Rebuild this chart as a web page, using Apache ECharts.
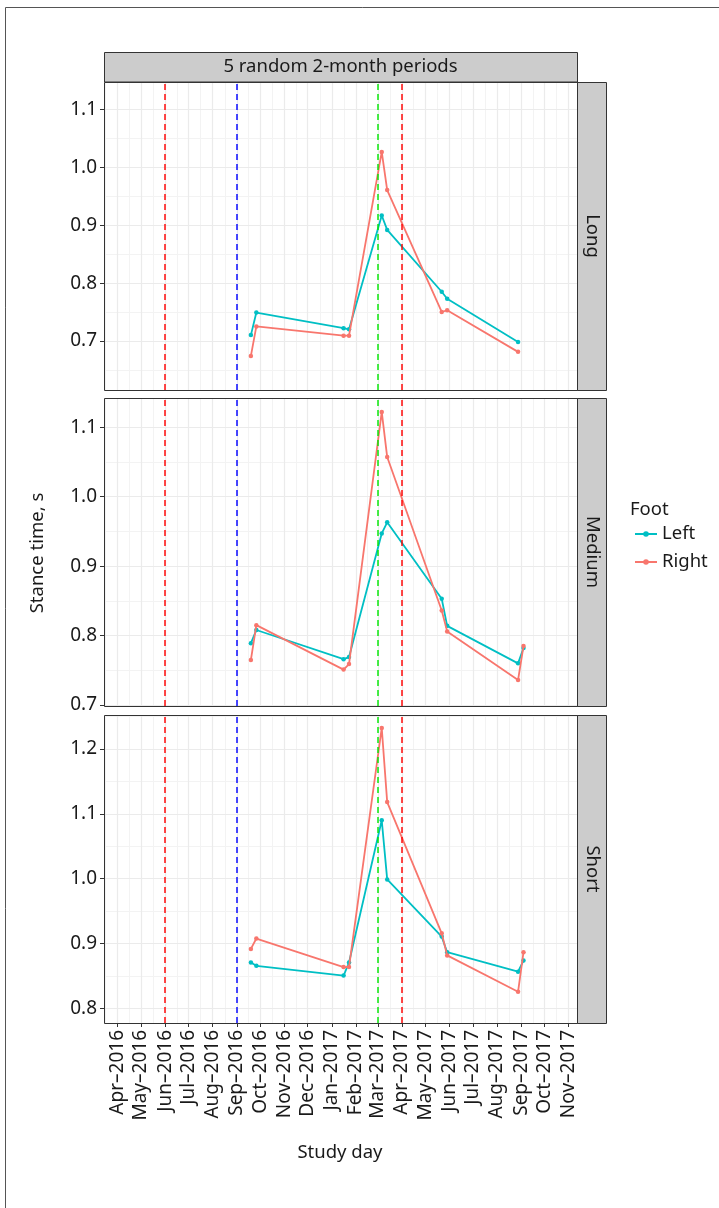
<!DOCTYPE html>
<html><head><meta charset="utf-8">
<script src="https://cdn.jsdelivr.net/npm/echarts@6/dist/echarts.min.js"></script>
<style>html,body{margin:0;padding:0;background:#fff}#c{width:719px;height:1208px}</style>
</head><body><div id="c"></div>
<script>
// ---------- DATA ----------
const dates = ['2016-09-19','2016-09-26','2017-01-16','2017-01-23','2017-03-06','2017-03-13','2017-05-22','2017-05-29','2017-08-28','2017-09-04'];
const panels = ['Long','Medium','Short'];
const longLeft    = [0.710,0.749,0.722,0.720,0.917,0.892,0.785,0.773,0.698,null];
const longRight   = [0.674,0.725,0.709,0.709,1.027,0.961,0.750,0.753,0.681,null];
const mediumLeft  = [0.789,0.808,0.766,0.769,0.947,0.963,0.853,0.814,0.760,0.782];
const mediumRight = [0.765,0.815,0.751,0.759,1.122,1.057,0.836,0.806,0.736,0.785];
const shortLeft   = [0.871,0.866,0.851,0.871,1.090,0.999,0.911,0.887,0.857,0.874];
const shortRight  = [0.892,0.908,0.864,0.864,1.232,1.118,0.916,0.882,0.826,0.887];
const vlineDates  = ['2016-06-01','2016-09-01','2017-03-01','2017-04-01'];
const vlineColors = ['rgba(255,0,0,0.72)','rgba(0,0,255,0.72)','rgba(0,230,0,0.72)','rgba(255,0,0,0.72)'];
const xTickDates  = ['2016-04-01','2016-05-01','2016-06-01','2016-07-01','2016-08-01','2016-09-01','2016-10-01','2016-11-01','2016-12-01','2017-01-01','2017-02-01','2017-03-01','2017-04-01','2017-05-01','2017-06-01','2017-07-01','2017-08-01','2017-09-01','2017-10-01','2017-11-01'];
const xTickLabels = ['Apr–2016','May–2016','Jun–2016','Jul–2016','Aug–2016','Sep–2016','Oct–2016','Nov–2016','Dec–2016','Jan–2017','Feb–2017','Mar–2017','Apr–2017','May–2017','Jun–2017','Jul–2017','Aug–2017','Sep–2017','Oct–2017','Nov–2017'];
const yTicksLong   = [0.7,0.8,0.9,1.0,1.1];
const yTicksMedium = [0.7,0.8,0.9,1.0,1.1];
const yTicksShort  = [0.8,0.9,1.0,1.1,1.2];
const yLimits = [[0.615,1.148],[0.6986,1.142],[0.778,1.252]];
const footNames = ['Left','Right'];
const footColors = ['#00BFC4','#F8766D'];

// ---------- BUILD ----------
const DAY = 86400000;
const ts = s => { const p = s.split('-').map(Number); return Date.UTC(p[0], p[1]-1, p[2]); };
const xTickTs = xTickDates.map(ts);
const xMin = xTickTs[0] - 17.6*DAY;
const xMax = xTickTs[xTickTs.length-1] + 10.7*DAY;
const xMinor = [];
const ext = [xTickTs[0] - 31*DAY].concat(xTickTs).concat([xTickTs[xTickTs.length-1] + 30*DAY]);
for (let i = 0; i < ext.length-1; i++) { const m = (ext[i]+ext[i+1])/2; if (m > xMin && m < xMax) xMinor.push(m); }

const panelVals = [[longLeft,longRight],[mediumLeft,mediumRight],[shortLeft,shortRight]];
const panelYTicks = [yTicksLong,yTicksMedium,yTicksShort];

const FONT = 'Noto Sans';
const TXT = '#1a1a1a';
const TICKFS = 19, TITLEFS = 18.5;
const L = 104, W = 473;
const tops = [82, 398, 715];
const H = 308;

const grids=[], xAxes=[], yAxes=[], series=[], graphics=[];
panels.forEach((pname, p) => {
  grids.push({left:L, top:tops[p], width:W, height:H, show:false});
  const bottom = p === panels.length-1;
  xAxes.push({type:'value', gridIndex:p, min:xMin, max:xMax,
    axisLine:{show:false},
    axisTick:{show:bottom, length:4, lineStyle:{color:'#333'}, customValues:xTickTs},
    axisLabel:{show:bottom, rotate:90, margin:7, fontFamily:FONT, fontSize:TICKFS, color:TXT, customValues:xTickTs,
      formatter: v => { const i = xTickTs.indexOf(v); return i>=0 ? xTickLabels[i] : ''; }},
    splitLine:{show:true, lineStyle:{color:'#ebebeb', width:1.2}}, z:1});
  xAxes.push({type:'value', gridIndex:p, min:xMin, max:xMax,
    axisLine:{show:false}, axisTick:{show:false, customValues:xMinor}, axisLabel:{show:false},
    splitLine:{show:true, lineStyle:{color:'#f3f3f3', width:1}}, z:0});
  const yt = panelYTicks[p];
  const yMinor = [];
  for (let v = Math.round((yt[0]-0.05)*100)/100; v < yLimits[p][1]; v = Math.round((v+0.1)*100)/100) if (v > yLimits[p][0]) yMinor.push(v);
  yAxes.push({type:'value', gridIndex:p, min:yLimits[p][0], max:yLimits[p][1],
    axisLine:{show:false},
    axisTick:{show:true, length:4, lineStyle:{color:'#333'}, customValues:yt},
    axisLabel:{show:true, margin:7, fontFamily:FONT, fontSize:TICKFS, color:TXT, customValues:yt, formatter: v => v.toFixed(1)},
    splitLine:{show:true, lineStyle:{color:'#ebebeb', width:1.2}}, z:1});
  yAxes.push({type:'value', gridIndex:p, min:yLimits[p][0], max:yLimits[p][1],
    axisLine:{show:false}, axisTick:{show:false, customValues:yMinor}, axisLabel:{show:false},
    splitLine:{show:true, lineStyle:{color:'#f3f3f3', width:1}}, z:0});

  series.push({type:'line', xAxisIndex:2*p, yAxisIndex:2*p, data:[], silent:true, z:2,
    markLine:{symbol:'none', silent:true, animation:false, label:{show:false},
      data: vlineDates.map((d,i) => ({xAxis: ts(d), lineStyle:{color:vlineColors[i], type:[6,4], width:2}}))}});
  footNames.forEach((fn, f) => {
    series.push({type:'line', name:fn, xAxisIndex:2*p, yAxisIndex:2*p, z:3+f,
      data: dates.map((d,i) => [ts(d), panelVals[p][f][i]]),
      symbol:'circle', symbolSize:4.5, showSymbol:true,
      itemStyle:{color:footColors[f]}, lineStyle:{color:footColors[f], width:1.8}, animation:false});
  });

  // panel border
  graphics.push({type:'rect', shape:{x:L+0.5, y:tops[p]+0.5, width:W, height:H}, style:{fill:'none', stroke:'#333', lineWidth:1}, z:12, silent:true});
  // right strip
  graphics.push({type:'rect', shape:{x:L+W+0.5, y:tops[p]+0.5, width:29, height:H}, style:{fill:'#cccccc', stroke:'#333', lineWidth:1}, z:10});
  graphics.push({type:'text', x:L+W+15, y:tops[p]+H/2, rotation:-Math.PI/2,
    style:{text:pname, font:TITLEFS+'px "'+FONT+'"', fill:TXT, align:'center', verticalAlign:'middle'}, z:11});
});

// top strip
graphics.push({type:'rect', shape:{x:L+0.5, y:52.5, width:W, height:29.5}, style:{fill:'#cccccc', stroke:'#333', lineWidth:1}, z:10});
graphics.push({type:'text', x:L+W/2, y:67, style:{text:'5 random 2-month periods', font:TITLEFS+'px "'+FONT+'"', fill:TXT, align:'center', verticalAlign:'middle'}, z:11});
// axis titles
graphics.push({type:'text', x:38, y:553, rotation:Math.PI/2, style:{text:'Stance time, s', font:TITLEFS+'px "'+FONT+'"', fill:TXT, align:'center', verticalAlign:'middle'}, z:11});
graphics.push({type:'text', x:340, y:1153, style:{text:'Study day', font:TITLEFS+'px "'+FONT+'"', fill:TXT, align:'center', verticalAlign:'middle'}, z:11});
// legend title
graphics.push({type:'text', x:630, y:510, style:{text:'Foot', font:TITLEFS+'px "'+FONT+'"', fill:TXT, align:'left', verticalAlign:'middle'}, z:11});
// outer frame
graphics.push({type:'rect', shape:{x:5.5, y:7.5, width:800, height:1300}, style:{fill:'none', stroke:'#555', lineWidth:1}, z:0, silent:true});

const chart = echarts.init(document.getElementById('c'), null, {renderer:'canvas'});
chart.setOption({
  animation:false,
  backgroundColor:'#fff',
  grid:grids, xAxis:xAxes, yAxis:yAxes, series:series,
  legend:{data:footNames, orient:'vertical', left:629, top:519, itemWidth:22, itemHeight:7, itemGap:8,
    textStyle:{fontFamily:FONT, fontSize:TITLEFS, color:TXT, lineHeight:20}},
  graphic:graphics
});
</script></body></html>
